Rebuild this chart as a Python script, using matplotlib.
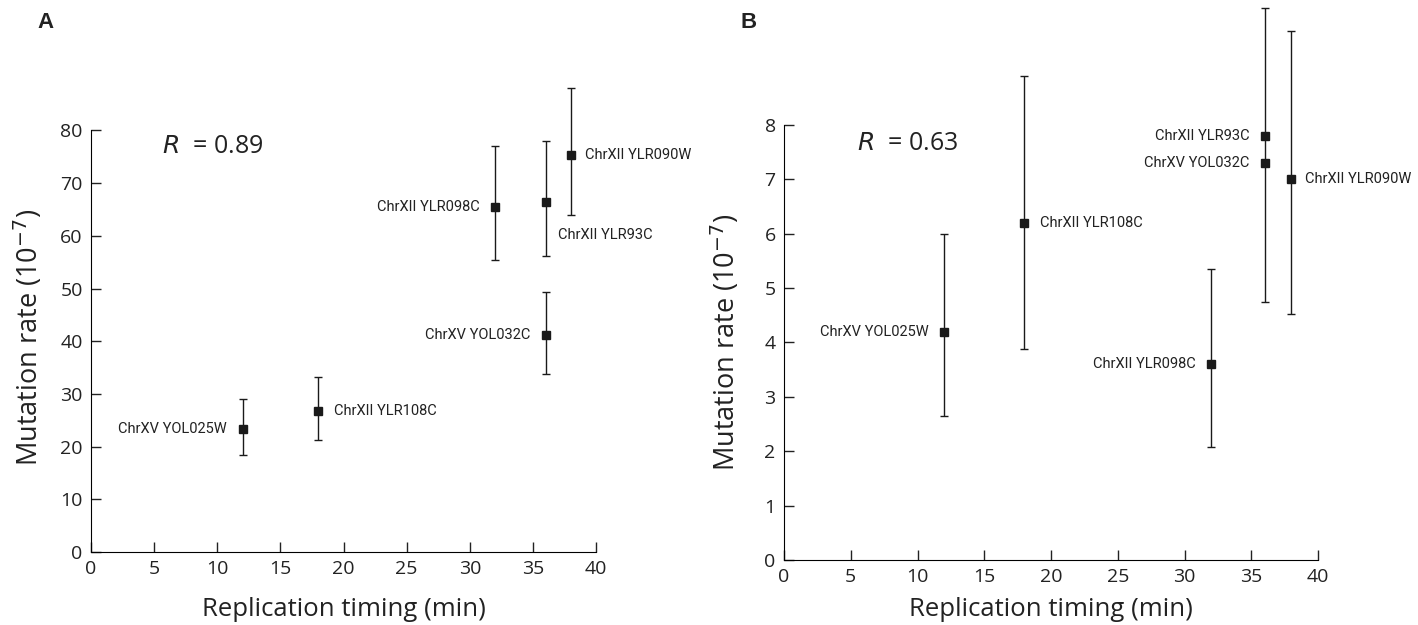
import matplotlib
matplotlib.use("Agg")
import matplotlib.pyplot as plt
from matplotlib import font_manager as fm
from matplotlib.transforms import blended_transform_factory

names = {f.name for f in fm.fontManager.ttflist}
NARROW = "Liberation Sans Narrow" if "Liberation Sans Narrow" in names else "Roboto"
WIDE = "Open Sans"

# ---- data ----
timing_a = [12, 18, 32, 36, 38, 36]
labels_a = ["ChrXV YOL025W", "ChrXII YLR108C", "ChrXII YLR098C",
            "ChrXII YLR93C", "ChrXII YLR090W", "ChrXV YOL032C"]
rate_a = [23.3, 26.8, 65.4, 66.4, 75.3, 41.1]
upper_a = [29.1, 33.2, 77.1, 78.0, 88.0, 49.3]
lower_a = [18.5, 21.3, 55.4, 56.2, 63.9, 33.8]

timing_b = [12, 18, 32, 36, 36, 38]
labels_b = ["ChrXV YOL025W", "ChrXII YLR108C", "ChrXII YLR098C",
            "ChrXII YLR93C", "ChrXV YOL032C", "ChrXII YLR090W"]
rate_b = [4.2, 6.2, 3.6, 7.8, 7.3, 7.0]
upper_b = [6.0, 8.9, 5.35, 10.14, 7.3, 9.72]
lower_b = [2.65, 3.88, 2.07, 4.75, 7.3, 4.53]

r_a = "0.89"
r_b = "0.63"
xticks = [0, 5, 10, 15, 20, 25, 30, 35, 40]
yticks_a = [0, 10, 20, 30, 40, 50, 60, 70, 80]
yticks_b = [0, 1, 2, 3, 4, 5, 6, 7, 8]

# label placement (offset points, ha)
place_a = [(-11, 0, "right"), (11, 0, "left"), (-11, 0, "right"),
           (9, -24, "left"), (10, 0, "left"), (-11, 0, "right")]
place_b = [(-11, 0, "right"), (11, 0, "left"), (-11, 0, "right"),
           (-11, 0, "right"), (-11, 0, "right"), (10, 0, "left")]

fig = plt.figure(figsize=(14.18, 6.25), dpi=100)
W, H = 1418, 625
INK = "#222222"


def make_ax(x0, x1, ybot, ytop_units, px_per_unit):
    height = ytop_units * px_per_unit
    return fig.add_axes([x0 / W, (H - ybot) / H, (x1 - x0) / W, height / H])


ax_a = make_ax(91, 596, 552, 95, 5.27)
ax_b = make_ax(784, 1318, 560, 10.2, 54.4)


def draw(ax, t, r, up, lo, labels, place, yticks, ylim, rtxt, rpos,
         ylab_x, ylab_y):
    yerr = [[ri - l for ri, l in zip(r, lo)], [u - ri for ri, u in zip(r, up)]]
    ax.errorbar(t, r, yerr=yerr, fmt="s", color="#1a1a1a", ms=5.8,
                ecolor="#1a1a1a", elinewidth=1.0, capsize=3, capthick=1.0,
                clip_on=False, zorder=3)
    for xi, yi, lab, (dx, dy, ha) in zip(t, r, labels, place):
        ax.annotate(lab, (xi, yi), xytext=(dx, dy), textcoords="offset points",
                    ha=ha, va="center", fontsize=10.5, family=NARROW,
                    color=INK, annotation_clip=False)
    ax.set_xlim(0, 40)
    ax.set_ylim(*ylim)
    ax.set_xticks(xticks)
    ax.set_yticks(yticks)
    for s in ["top", "right"]:
        ax.spines[s].set_visible(False)
    ax.spines["left"].set_bounds(yticks[0], yticks[-1])
    ax.spines["bottom"].set_bounds(0, 40)
    ax.tick_params(direction="in", length=7, width=1.0, labelsize=14,
                   colors=INK, pad=6)
    for lab in ax.get_xticklabels() + ax.get_yticklabels():
        lab.set_family(WIDE)
    ax.set_xlabel("Replication timing (min)", fontsize=18.5, family=WIDE,
                  color=INK)
    ax.xaxis.set_label_coords(
        0.5, 1 - 597 / H,
        transform=blended_transform_factory(ax.transAxes, fig.transFigure))
    ax.set_ylabel(r"Mutation rate (10$^{-7}$)", fontsize=19.5, family=WIDE,
                  color=INK)
    ax.yaxis.set_label_coords(ylab_x, ylab_y)
    ax.text(rpos[0], rpos[1], r"$\it{R}$" + "  = " + rtxt, fontsize=18,
            family=WIDE, va="center", ha="left", color=INK)


draw(ax_a, timing_a, rate_a, upper_a, lower_a, labels_a, place_a,
     yticks_a, (0, 95), r_a, (5.6, 77.0), -46 / 505, 0.428)
draw(ax_b, timing_b, rate_b, upper_b, lower_b, labels_b, place_b,
     yticks_b, (0, 10.2), r_b, (5.5, 7.65), -42 / 534, 0.393)

fig.text(37 / W, 1 - 23 / H, "A", fontsize=16, fontweight="bold",
         va="center", ha="left", family="Liberation Sans", color=INK)
fig.text(741 / W, 1 - 23 / H, "B", fontsize=16, fontweight="bold",
         va="center", ha="left", family="Liberation Sans", color=INK)

fig.savefig("out.png", dpi=100)
